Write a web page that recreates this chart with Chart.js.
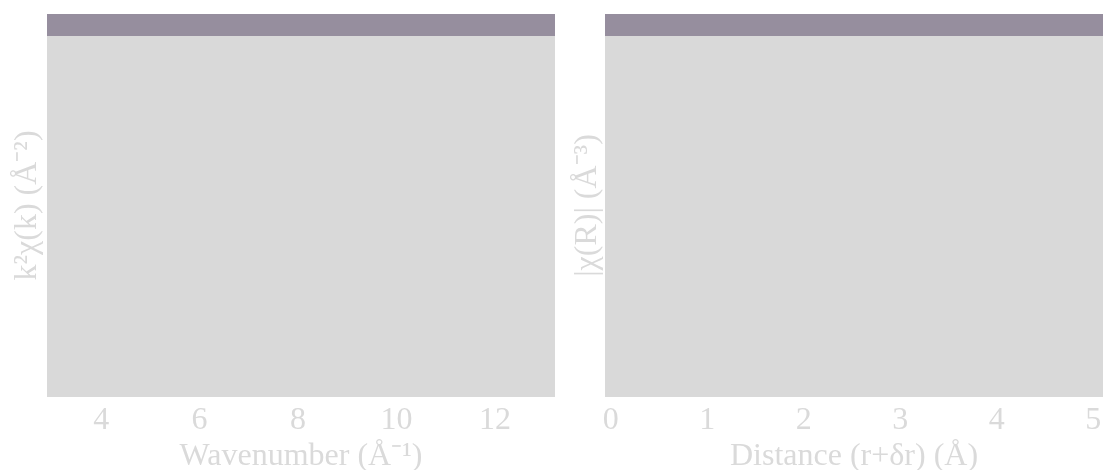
<!DOCTYPE html>
<html>
<head>
<meta charset="utf-8">
<script src="https://cdn.jsdelivr.net/npm/chart.js@4"></script>
<style>
    body { margin: 0; background: #fff; overflow: hidden; }
    .panel { position: absolute; top: 0; }
</style>
</head>
<body>
<div class="panel" style="left:0"><canvas id="chi-k" width="560" height="470"></canvas></div>
<div class="panel" style="left:560px"><canvas id="chi-r" width="543" height="470"></canvas></div>
<script>
// k-space panel
const kTicks = [4, 6, 8, 10, 12];
const kRange = [2.9, 13.22];
const kData = []; // curve is not visible in the picture
// R-space panel
const rTicks = [0, 1, 2, 3, 4, 5];
const rRange = [-0.06, 5.1];
const rData = [];

const textColor = "#dadada";
const serif = "'Liberation Serif', 'Times New Roman', serif";

// grey plot background plus the mottled band along the top
const plotBackground = {
    id: "plotBackground",
    beforeDraw(chart) {
        const { ctx, chartArea } = chart;
        ctx.save();
        ctx.fillStyle = "#d9d9d9";
        ctx.fillRect(chartArea.left, chartArea.top, chartArea.right - chartArea.left, chartArea.bottom - chartArea.top);
        ctx.fillStyle = "rgb(150, 142, 158)";
        ctx.fillRect(chartArea.left, chartArea.top, chartArea.right - chartArea.left, 22);
        ctx.restore();
    },
};

function makeChart(canvasId, data, ticks, range, xTitle, yTitle, yWidth, padRight) {
    return new Chart(document.getElementById(canvasId), {
        type: "scatter",
        data: {
            datasets: [{ data: data, showLine: true, borderColor: "#333", pointRadius: 0 }],
        },
        options: {
            responsive: false,
            animation: false,
            layout: { padding: { top: 14, right: padRight, left: 0, bottom: 0 } },
            plugins: { legend: { display: false }, tooltip: { enabled: false } },
            scales: {
                x: {
                    type: "linear",
                    min: range[0],
                    max: range[1],
                    afterBuildTicks: (s) => { s.ticks = ticks.map((v) => ({ value: v })); },
                    afterFit: (s) => {
                        s.height = 73;
                        s.paddingLeft = 0;
                        s.paddingRight = 0;
                    },
                    grid: { display: false, drawTicks: false },
                    border: { display: false },
                    ticks: { color: textColor, padding: 4, maxRotation: 0, font: { family: serif, size: 32, lineHeight: 1.2 } },
                    title: {
                        display: true,
                        text: xTitle,
                        color: textColor,
                        padding: { top: 0, bottom: 0 },
                        font: { family: serif, size: 32, lineHeight: 0.85 },
                    },
                },
                y: {
                    min: 0,
                    max: 1,
                    afterFit: (s) => { s.width = yWidth; },
                    grid: { display: false },
                    border: { display: false },
                    ticks: { display: false },
                    title: {
                        display: true,
                        text: yTitle,
                        color: textColor,
                        padding: { top: 8, bottom: 0 },
                        font: { family: serif, size: 32, lineHeight: 1.2 },
                    },
                },
            },
        },
        plugins: [plotBackground],
    });
}

makeChart("chi-k", kData, kTicks, kRange, "Wavenumber (Å⁻¹)", "k²χ(k) (Å⁻²)", 47, 5);
makeChart("chi-r", rData, rTicks, rRange, "Distance (r+δr) (Å)", "|χ(R)| (Å⁻³)", 45, 0);
</script>
</body>
</html>
